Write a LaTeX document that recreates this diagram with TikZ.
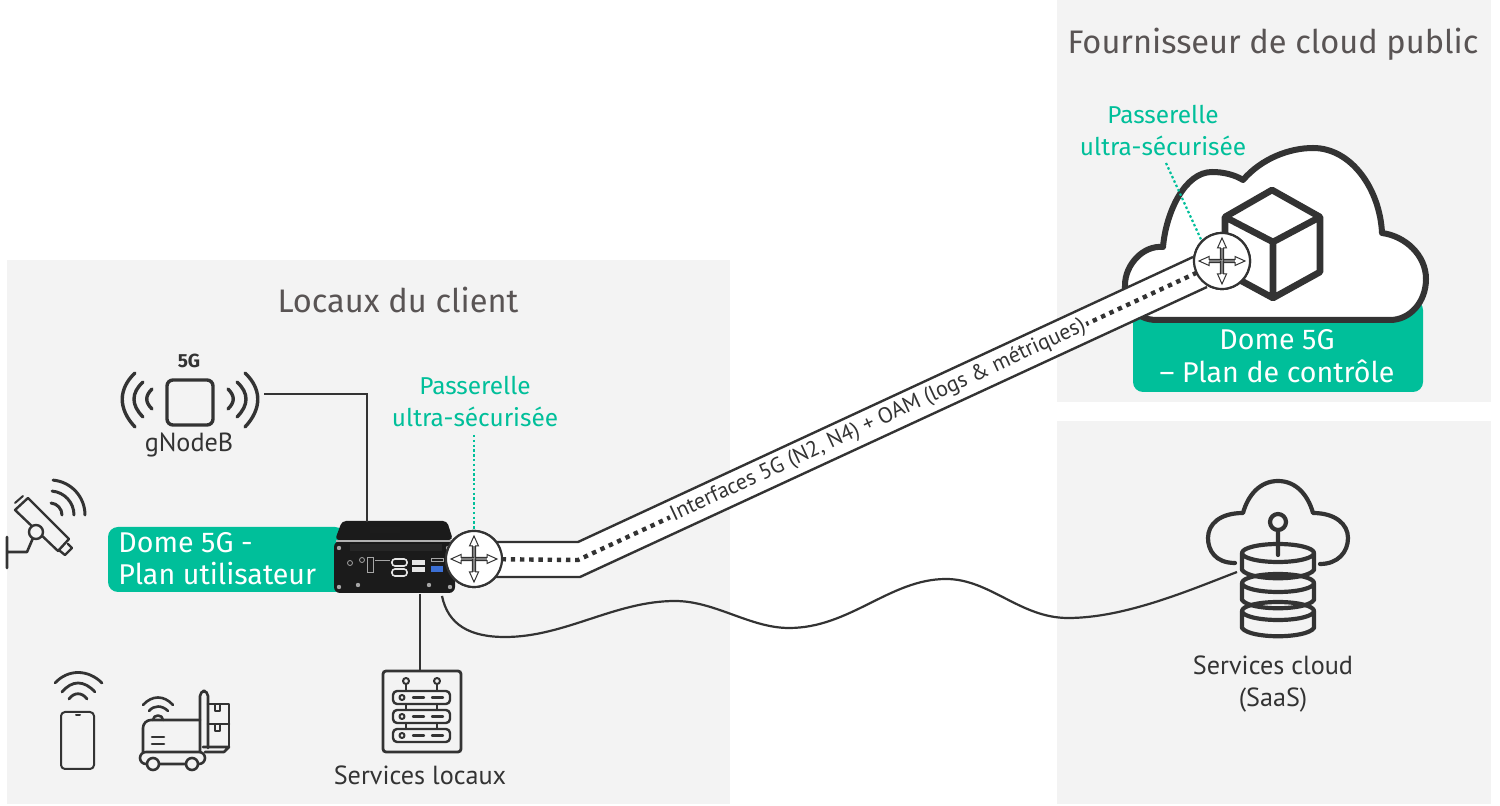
\documentclass[tikz,border=0pt]{standalone}
\usepackage{fontspec}
\setmainfont{Fira Sans}
\newfontfamily\labelfont{PT Sans}
\usetikzlibrary{arrows.meta, positioning, calc}
\definecolor{panelcolor}{RGB}{243,243,243}
\definecolor{domecolor}{RGB}{0,191,154}
\definecolor{inkcolor}{RGB}{51,51,51}
\definecolor{titlecolor}{RGB}{89,84,84}
\definecolor{boxcolor}{RGB}{27,27,27}
\definecolor{usbcolor}{RGB}{59,111,212}
% four open arrows of a router, centred on a named node
\newcommand{\routercross}[1]{%
  \foreach \a in {0,90,180,270}{
    \begin{scope}[shift={(#1)}, rotate=\a]
      \draw[draw=inkcolor, line width=0.5pt, fill=white, line join=miter]
        (0,-1.6) -- (13,-1.6) -- (13,-4.5) -- (23,0) -- (13,4.5) -- (13,1.6) -- (0,1.6);
      \draw[draw=gray, line width=1pt] (0,0) -- (13,0);
    \end{scope}
  }%
}
\begin{document}
\begin{tikzpicture}[
    x=0.5pt, y=-0.5pt,
    panel/.style={fill=panelcolor, draw=none},
    iconline/.style={draw=inkcolor, line width=1.7pt, line cap=round, line join=round},
    thinicon/.style={draw=inkcolor, line width=1pt, line cap=round, line join=round},
    wire/.style={draw=inkcolor, line width=1.1pt},
    domebox/.style={fill=domecolor, draw=none, rounded corners=5pt},
    domelabel/.style={text=white, font=\fontsize{14.3}{14.3}\selectfont, inner sep=0pt},
    gatelabel/.style={text=domecolor, font=\fontsize{12.2}{16}\selectfont, align=center, inner sep=0pt},
    iconlabel/.style={text=inkcolor, font=\labelfont\fontsize{13.1}{16}\selectfont, align=center, inner sep=0pt},
    titlelabel/.style={text=titlecolor, font=\fontsize{16.3}{16.3}\selectfont, inner sep=0pt},
    router/.style={circle, draw=inkcolor, fill=white, line width=1.1pt, minimum size=28pt, inner sep=0pt},
    gateline/.style={draw=domecolor, line width=1.1pt, dash pattern=on 1.2pt off 1.2pt},
    tubeedge/.style={draw=inkcolor, line width=1.2pt},
    dotline/.style={draw=inkcolor, line width=2.2pt, dash pattern=on 2.2pt off 2.4pt},
    port/.style={draw=none, fill=#1}
]
    \useasboundingbox (0,0) rectangle (1500,806);

    % Panels
    \fill[panel] (7,260) rectangle (730,804);
    \fill[panel] (1057,0) rectangle (1491,402);
    \fill[panel] (1057,421) rectangle (1491,804);
    \node[titlelabel] (titleclient) at (398,300) {Locaux du client};
    \node[titlelabel] (titlecloud) at (1273,44) {Fournisseur de cloud public};

    % Dome boxes
    \fill[domebox] (108,527) rectangle (345,592);
    \node[domelabel, anchor=west] (planuser) at (118,543) {Dome 5G -};
    \node[domelabel, anchor=west] (planuser2) at (118,574) {Plan utilisateur};
    \fill[domebox] (1133,300) rectangle (1423,392);

    % Public cloud with cube
    \draw[draw=inkcolor, line width=3pt, fill=white, line join=round]
      (1157,320) .. controls (1135,320) and (1124,303) .. (1125,285)
      .. controls (1125,265) and (1143,245) .. (1163,247)
      .. controls (1166,212) and (1185,172) .. (1212,172)
      .. controls (1224,172) and (1235,175) .. (1243,180)
      .. controls (1262,158) and (1290,148) .. (1313,148)
      .. controls (1352,148) and (1380,190) .. (1382,233)
      .. controls (1405,236) and (1426,255) .. (1426,279)
      .. controls (1426,302) and (1410,320) .. (1390,320) -- cycle;
    \draw[draw=inkcolor, line width=3.3pt, line join=round]
      (1272,190) -- (1320,217) -- (1320,272) -- (1273,298) -- (1225,272) -- (1225,217) -- cycle
      (1225,217) -- (1273,242) -- (1320,217)
      (1273,242) -- (1273,298);
    \node[domelabel] (plancontrol) at (1277,340) {Dome 5G};
    \node[domelabel] (plancontrol2) at (1277,371) {-- Plan de contrôle};

    % Device
    \node[fill=boxcolor, rounded corners=3pt, minimum width=60.5pt, minimum height=26pt, inner sep=0pt] (device) at (394.5,567) {};
    \fill[boxcolor, rounded corners=2pt] (335,540) -- (342,521) -- (447,521) -- (453,540) -- cycle;
    \fill[gray!22!black] (370,527) rectangle (400,533);
    \draw[draw=gray!60, line width=0.6pt] (336,541) -- (453,541);
    \fill[gray!30!black] (350,544) rectangle (442,551);
    \foreach \px/\py in {339/548,448/548,339/587,358/585,429/585,450/587}
      \fill[gray!70] (\px,\py) circle (2.2);
    \foreach \px/\py in {350/563,362/560}
      \draw[gray!70, line width=0.4pt] (\px,\py) circle (2.5);
    \draw[gray!70, line width=0.5pt] (367,558) rectangle (373,573);
    \draw[gray!70, line width=0.4pt] (375,560) -- (390,560);
    \draw[gray!20, line width=0.8pt, rounded corners=1.5pt] (392,559) rectangle (407,566);
    \draw[gray!20, line width=0.8pt, rounded corners=1.5pt] (392,569) rectangle (407,576);
    \fill[port=gray!20] (412,560) rectangle (425,565);
    \fill[port=gray!20] (412,567) rectangle (425,572);
    \draw[gray!70, line width=0.4pt] (431,558) rectangle (443,561);
    \fill[port=usbcolor] (431,566) rectangle (443,572);

    % gNodeB
    \node[iconlabel, font=\fontsize{9.5}{9.5}\selectfont\bfseries] (fiveg) at (189,361) {5G};
    \node[iconlabel] (gnodeb) at (189,445) {gNodeB};
    \draw[iconline, rounded corners=3pt] (167,380) rectangle (213,425);
    \foreach \s in {1,-1}{
      \begin{scope}[shift={(190,399)}, xscale=\s]
        \draw[iconline] (38,-10) .. controls (45,-3) and (45,3) .. (38,10);
        \draw[iconline] (47,-17) .. controls (59,-6) and (59,6) .. (47,18);
        \draw[iconline] (55,-26) .. controls (72,-10) and (72,10) .. (55,28);
      \end{scope}
    }
    \coordinate (gnbport) at (264,394);
    \coordinate (devicetop) at (367,522);
    \draw[wire] (gnbport) -| (devicetop);

    % Camera
    \draw[thinicon, line width=1.3pt] (7,537) -- (7,568) (7,552) -- (27,552) -- (33,538);
    \draw[iconline, line width=1.2pt] (15,510) -- (28,498) -- (69,539) -- (58,551) -- cycle;
    \draw[iconline, line width=1.2pt, fill=panelcolor] (36,532) circle (7);
    \draw[iconline, line width=1.2pt] (60,551) -- (65,555) -- (72,548) -- (68,544);
    \draw[thinicon] (15,503) -- (23,496);
    \foreach \r in {12,24,35}
      \draw[iconline, line width=1.5pt] ([shift={(-85:\r)}]50,515) arc (-85:0:\r);

    % Phone
    \draw[thinicon, rounded corners=2pt] (61,712) rectangle (94,769);
    \draw[thinicon] (76,715) -- (80,715);
    \draw[iconline, line width=1.4pt] (55,683) .. controls (68,669) and (88,669) .. (102,683);
    \draw[iconline, line width=1.4pt] (62,692) .. controls (72,680) and (84,680) .. (95,692);
    \draw[iconline, line width=1.4pt] (69,699) .. controls (74,692) and (82,692) .. (87,699);

    % Forklift
    \begin{scope}[iconline, line width=1.3pt]
      \draw[rounded corners=3pt] (140,752) rectangle (205,764);
      \draw[rounded corners=4pt] (143,752) -- (143,720) -- (200,720);
      \draw[rounded corners=2.5pt] (200,752) -- (200,691) -- (208,691) -- (208,748);
      \draw (203,747) -- (229,747) -- (224,752) -- (205,752);
      \draw (208,704) -- (229,704) -- (229,747) (208,724) -- (229,724);
      \draw (215,705) -- (215,711) -- (220,711) -- (220,705) (215,725) -- (215,731) -- (220,731) -- (220,725);
      \draw (152,737) -- (164,737) (152,744) -- (164,744);
      \draw[fill=panelcolor] (153,764) circle (6);
      \draw[fill=panelcolor] (192,764) circle (6);
      \draw (153,720) .. controls (153,714) and (163,714) .. (163,720);
      \draw (143,705) .. controls (152,695) and (164,695) .. (173,705);
      \draw (149,711) .. controls (154,705) and (162,705) .. (168,711);
    \end{scope}

    % Local services
    \node[draw=inkcolor, line width=1.4pt, rounded corners=1.5pt, minimum width=39pt, minimum height=40.5pt, inner sep=0pt] (localsrv) at (422,711.5) {};
    \foreach \y in {691,710,729}{
      \draw[iconline, line width=1.2pt, rounded corners=2pt] (393,\y) rectangle (450,\y+13);
      \draw[iconline, line width=1pt] (402,\y+6.5) circle (2.5);
      \draw[iconline, line width=1.2pt] (413,\y+6.5) -- (424,\y+6.5) (432,\y+6.5) -- (443,\y+6.5);
    }
    \foreach \px in {406,437}{
      \draw[iconline, line width=1pt] (\px,681) circle (3);
      \draw[iconline, line width=1pt] (\px,684) -- (\px,691) (\px,704) -- (\px,710) (\px,723) -- (\px,729);
    }
    \node[iconlabel] (locallabel) at (420,775) {Services locaux};
    \coordinate (devicebot) at (420,594);
    \coordinate (localtop) at (420,671);
    \draw[wire] (devicebot) -- (localtop);

    % Tube between the gateways
    \coordinate (bendup) at (578,542);
    \coordinate (bendlow) at (580,577);
    \coordinate (bendmid) at (578,560);
    \node[router] (gatelocal) at (474,559) {};
    \node[router] (gatecloud) at (1222,261) {};
    \fill[white] (gatelocal.center |- bendup) -- (bendup) -- (1193,257) -- (1207,287) -- (bendlow) -- (gatelocal.center |- bendlow) -- cycle;
    \draw[tubeedge] (gatelocal.center |- bendup) -- (bendup) -- (1193,257);
    \draw[tubeedge] (gatelocal.center |- bendlow) -- (bendlow) -- (1207,287);
    \draw[dotline] (gatelocal.center) -- (bendmid) -- (gatecloud.center)
      node[pos=0.466, sloped, fill=white, inner sep=1pt, text=inkcolor, font=\labelfont\fontsize{11}{11}\selectfont] (tubelabel) {Interfaces 5G (N2, N4) + OAM (logs \& métriques)};

    % Routers
    \node[router] at (gatelocal.center) {};
    \node[router] at (gatecloud.center) {};
    \routercross{gatelocal.center}
    \routercross{gatecloud.center}

    % Gateway labels
    \node[gatelabel] (gatelocallabel) at (475,401) {Passerelle\\ultra-sécurisée};
    \node[gatelabel] (gatecloudlabel) at (1163,131) {Passerelle\\ultra-sécurisée};
    \coordinate (gatelocaltop) at (474,435);
    \coordinate (gatecloudtop) at (1166,163);
    \draw[gateline] (gatelocaltop) -- (gatelocal.north);
    \draw[gateline] (gatecloudtop) -- (gatecloud.north west);

    % Cloud services
    \draw[iconline, line width=2.1pt] (1235,563) .. controls (1215,563) and (1208,550) .. (1208,538)
      .. controls (1208,524) and (1220,513) .. (1243,513)
      .. controls (1248,495) and (1260,481) .. (1278,481)
      .. controls (1296,481) and (1308,495) .. (1313,513)
      .. controls (1335,513) and (1348,524) .. (1348,538)
      .. controls (1348,552) and (1338,564) .. (1320,564);
    \foreach \y in {611,583,553}{
      \draw[iconline, line width=2.1pt, fill=panelcolor] (1278,\y) ellipse [x radius=36, y radius=9];
      \draw[iconline, line width=2.1pt] (1242,\y) -- (1242,\y+17) .. controls (1250,\y+28) and (1306,\y+28) .. (1314,\y+17) -- (1314,\y);
    }
    \draw[iconline, line width=2.1pt] (1278,522) circle (8) (1278,530) -- (1278,555);
    \node[iconlabel] (saaslabel) at (1273,684) {Services cloud\\(SaaS)};
    \coordinate (saasport) at (1237,572);
    \coordinate (deviceright) at (442,596);
    \draw[wire] (deviceright) .. controls (448,625) and (470,637) .. (505,637)
      .. controls (565,637) and (615,601) .. (675,601)
      .. controls (715,601) and (750,628) .. (789,628)
      .. controls (850,628) and (890,579) .. (946,579)
      .. controls (990,579) and (1020,618) .. (1068,618)
      .. controls (1125,618) and (1190,590) .. (saasport);
\end{tikzpicture}
\end{document}
